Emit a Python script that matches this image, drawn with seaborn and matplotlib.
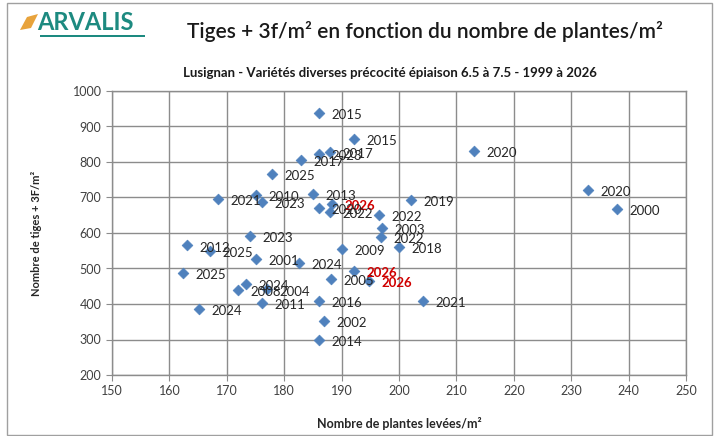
import pandas as pd
import seaborn as sns
import matplotlib.pyplot as plt
from matplotlib.patches import Rectangle, Polygon

# plants per m2 (x), stems + 3 tillers per m2 (y), year labels
plantes = [186, 192.1, 186, 188, 183, 177.9, 168.5, 175, 176.1, 185,
           188.3, 186, 188, 196.5, 197.1, 196.9, 174, 163.1, 167, 175,
           182.6, 190.1, 200, 202.1, 213, 232.9, 238, 162.3, 173.3, 172,
           177, 176.1, 165.1, 186, 187, 186, 188.2, 192.1, 194.7, 204.2]
tiges = [938, 864, 822, 829, 806, 766, 695, 706, 687, 710,
         683, 670, 659, 650, 613, 590, 592, 565, 550, 526,
         515, 555, 561, 693, 831, 721, 667, 487, 456, 439,
         441, 404, 387, 408, 353, 298, 470, 493, 466, 408]
annees = ['2015', '2015', '2023', '2017', '2017', '2025', '2021', '2010', '2023', '2013',
          '2026', '2020', '2022', '2022', '2003', '2022', '2023', '2012', '2025', '2001',
          '2024', '2009', '2018', '2019', '2020', '2020', '2000', '2025', '2024', '2008',
          '2004', '2011', '2024', '2016', '2002', '2014', '2005', '2026', '2026', '2021']

df = pd.DataFrame({'x': plantes, 'y': tiges, 'annee': annees})

sns.set_style("white")
plt.rcParams['font.family'] = ['Lato', 'DejaVu Sans']

fig = plt.figure(figsize=(7.14, 4.36), dpi=100)
ax = fig.add_axes([112/714, 1 - 375/436, 574/714, 284/436])

sns.scatterplot(data=df, x='x', y='y', marker='D', color='#4F81BD',
                s=30, edgecolor='#4F81BD', linewidth=0.5, ax=ax, zorder=3)

for xv, yv, lab in zip(plantes, tiges, annees):
    if lab == '2026':
        ax.annotate(lab, (xv, yv), xytext=(9, -1.5), textcoords='offset points',
                    va='center', ha='left', fontsize=9.5, color='#D00000',
                    fontweight='bold', zorder=4)
    else:
        ax.annotate(lab, (xv, yv), xytext=(9, -1.5), textcoords='offset points',
                    va='center', ha='left', fontsize=9.5, color='#262626', zorder=4)

ax.set_xlim(150, 250)
ax.set_ylim(200, 1000)
ax.set_xticks(range(150, 251, 10))
ax.set_yticks(range(200, 1001, 100))
ax.grid(True, color='#8c8c8c', linewidth=1)
ax.set_axisbelow(True)
for sp in ax.spines.values():
    sp.set_color('#8c8c8c')
    sp.set_linewidth(1)
ax.tick_params(axis='both', direction='out', length=4, color='#8c8c8c',
               labelsize=9, labelcolor='#404040', left=True, bottom=True)
ax.set_xlabel('Nombre de plantes levées/m²', fontsize=9, fontweight='bold', labelpad=14)
ax.set_ylabel('Nombre de tiges + 3F/m²', fontsize=8, fontweight='bold', labelpad=22)

# titles
fig.text(425/714, 1 - 32/436, 'Tiges + 3f/m² en fonction du nombre de plantes/m²',
         ha='center', va='center', fontsize=15, fontweight='semibold', color='#1a1a1a')
fig.text(390/714, 1 - 73/436,
         'Lusignan - Variétés diverses précocité épiaison 6.5 à 7.5 - 1999 à 2026',
         ha='center', va='center', fontsize=9.5, fontweight='bold', color='#1a1a1a')

# logo
fig.text(37/714, 1 - 23/436, 'ARVALIS', ha='left', va='center', fontsize=17,
         fontweight='bold', color='#1d8a80')
fig.patches.append(Polygon([[20/714, 1 - 30/436], [27/714, 1 - 17/436], [38/714, 1 - 14/436],
                            [31/714, 1 - 28/436]], closed=True, transform=fig.transFigure,
                           facecolor='#e8a33c', edgecolor='none'))
fig.patches.append(Rectangle((40/714, 1 - 37/436), 105/714, 2/436, transform=fig.transFigure,
                             facecolor='#1d8a80', edgecolor='none'))

# outer frame
fig.patches.append(Rectangle((7/714, 1/436), 705/714, 432/436, transform=fig.transFigure,
                             fill=False, edgecolor='#a0a0a0', linewidth=1))

fig.savefig('out.png', dpi=100)
